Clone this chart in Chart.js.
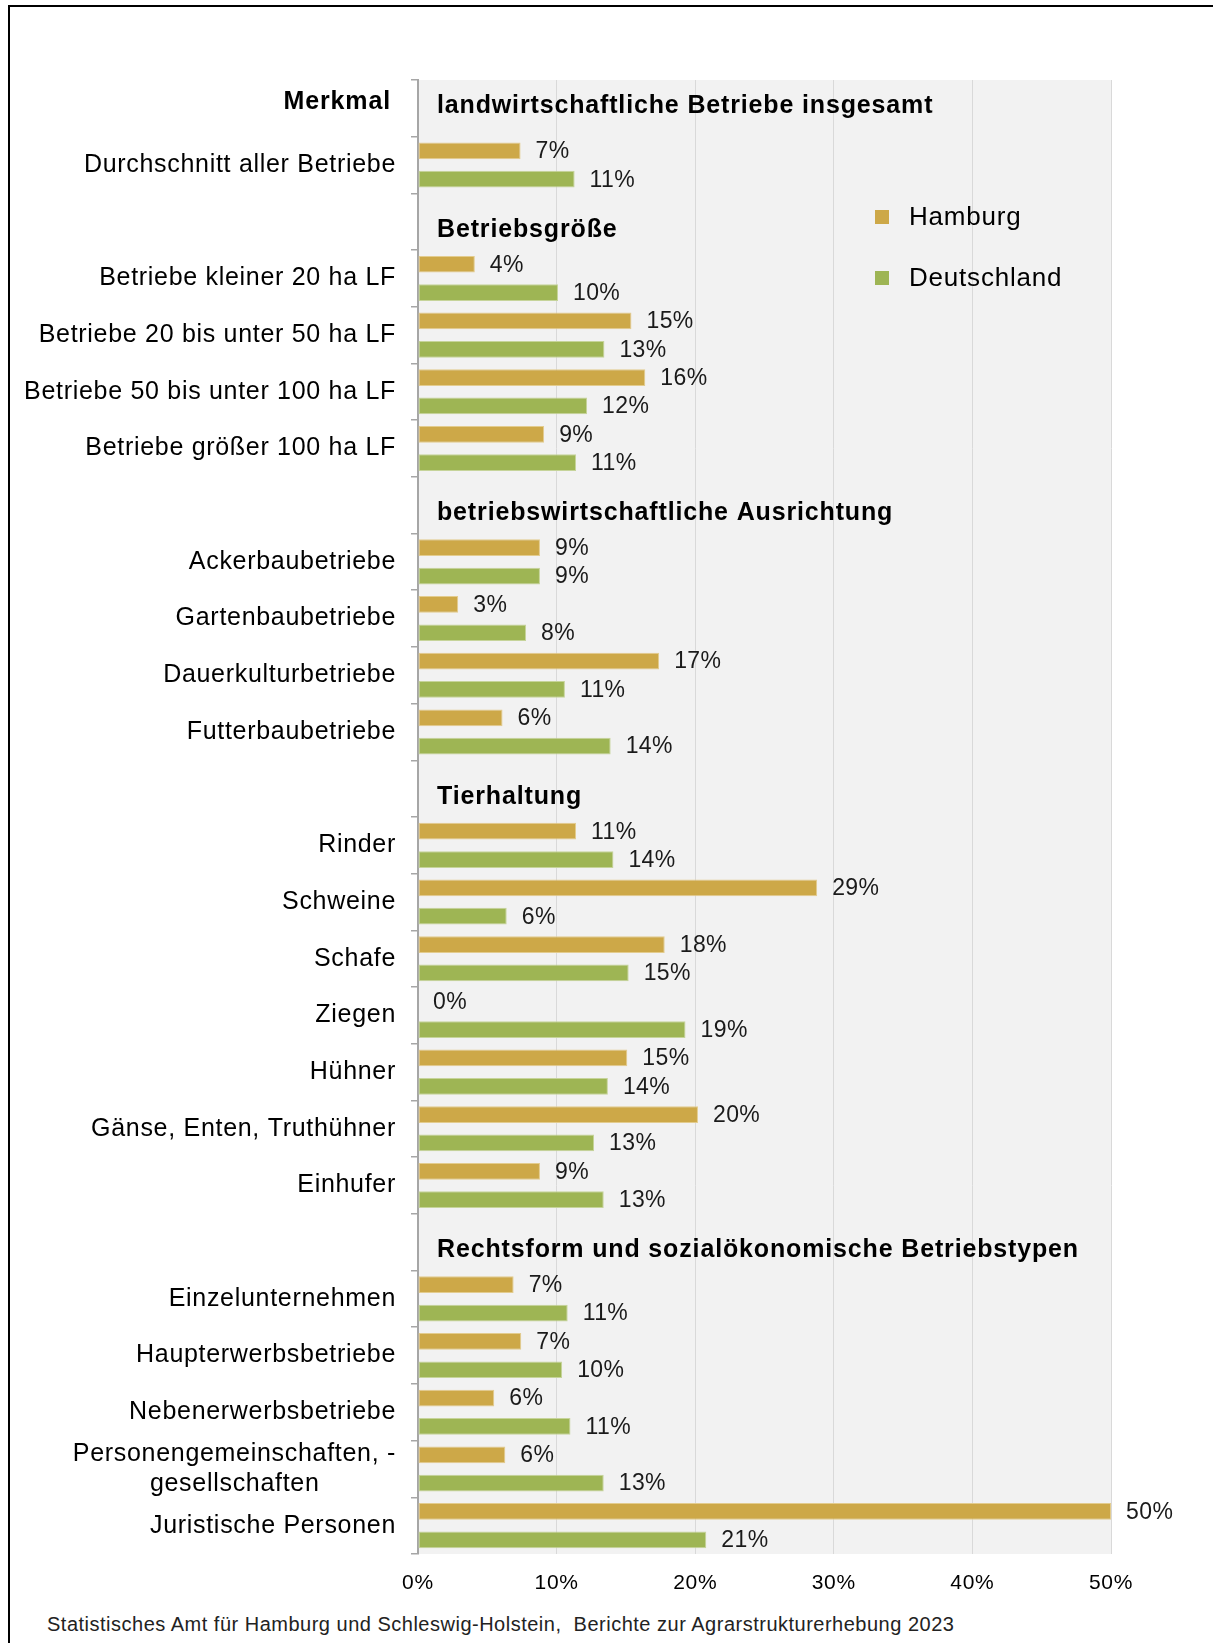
<!DOCTYPE html>
<html lang="de">
<head>
    <meta charset="UTF-8">
    <title>Betriebe Hamburg und Deutschland</title>
    <script src="https://cdn.jsdelivr.net/npm/chart.js"></script>
    <style>
        * { box-sizing: border-box; margin: 0; padding: 0; }
        body {
            width: 1213px;
            height: 1643px;
            background: #fff;
            position: relative;
            overflow: hidden;
            font-family: "Liberation Sans", Arial, sans-serif;
        }
        /* cropped frame: only top and left edge visible */
        .frame {
            position: absolute;
            left: 8px;
            top: 5px;
            width: 1400px;
            height: 1800px;
            border-top: 2px solid #000;
            border-left: 2px solid #000;
        }
        .chart-box {
            position: absolute;
            left: 0;
            top: 0;
            width: 1213px;
            height: 1600px;
        }
        .source {
            position: absolute;
            left: 47px;
            top: 1613px;
            font-size: 20px;
            letter-spacing: 0.5px;
            color: #222;
            white-space: pre;
        }
    </style>
</head>
<body>

<div class="frame"></div>
<div class="chart-box">
    <canvas id="betriebeChart"></canvas>
</div>
<div class="source">Statistisches Amt für Hamburg und Schleswig-Holstein,  Berichte zur Agrarstrukturerhebung 2023</div>

<script>
    // rows of the chart (empty label = section header row)
    const labels = [
        '', 'Durchschnitt aller Betriebe',
        '', 'Betriebe kleiner 20 ha LF', 'Betriebe 20 bis unter 50 ha LF', 'Betriebe 50 bis unter 100 ha LF', 'Betriebe größer 100 ha LF',
        '', 'Ackerbaubetriebe', 'Gartenbaubetriebe', 'Dauerkulturbetriebe', 'Futterbaubetriebe',
        '', 'Rinder', 'Schweine', 'Schafe', 'Ziegen', 'Hühner', 'Gänse, Enten, Truthühner', 'Einhufer',
        '', 'Einzelunternehmen', 'Haupterwerbsbetriebe', 'Nebenerwerbsbetriebe',
        ['Personengemeinschaften, -', 'gesellschaften' + '\u00a0'.repeat(10)], 'Juristische Personen'
    ];
    const headers = [
        'landwirtschaftliche Betriebe insgesamt', '',
        'Betriebsgröße', '', '', '', '',
        'betriebswirtschaftliche Ausrichtung', '', '', '', '',
        'Tierhaltung', '', '', '', '', '', '', '',
        'Rechtsform und sozialökonomische Betriebstypen', '', '', '', '', ''
    ];
    const hamburg = [null, 7.4, null, 4.1, 15.4, 16.4, 9.1, null, 8.8, 2.9, 17.4, 6.1, null, 11.4, 28.8, 17.8, 0, 15.1, 20.2, 8.8, null, 6.9, 7.45, 5.5, 6.3, 50];
    const deutschland = [null, 11.3, null, 10.1, 13.45, 12.2, 11.4, null, 8.8, 7.8, 10.6, 13.9, null, 14.1, 6.4, 15.2, 19.3, 13.7, 12.7, 13.4, null, 10.8, 10.4, 11.0, 13.4, 20.8];
    const xTickLabels = ['0%', '10%', '20%', '30%', '40%', '50%'];

    const FONT = '"Liberation Sans", Arial, sans-serif';
    Chart.defaults.font.family = FONT;
    Chart.defaults.color = '#000';

    // plot background, value labels, section headers, legend
    const decor = {
        id: 'decor',
        beforeDraw(chart) {
            const { ctx, chartArea: a } = chart;
            ctx.letterSpacing = '0.7px';
            ctx.save();
            ctx.fillStyle = '#f2f2f2';
            ctx.fillRect(a.left, a.top, a.right - a.left, a.bottom - a.top);
            ctx.restore();
        },
        afterDatasetsDraw(chart) {
            const { ctx, chartArea: a } = chart;
            const y = chart.scales.y;
            ctx.save();

            // value labels
            ctx.font = '23px ' + FONT;
            ctx.letterSpacing = '0.4px';
            ctx.fillStyle = '#1a1a1a';
            ctx.textBaseline = 'middle';
            ctx.textAlign = 'left';
            chart.data.datasets.forEach((ds, i) => {
                chart.getDatasetMeta(i).data.forEach((bar, j) => {
                    const v = ds.data[j];
                    if (v === null) return;
                    ctx.fillText(Math.round(v) + '%', bar.x + 15, bar.y + 1);
                });
            });

            // section headers
            ctx.font = 'bold 25px ' + FONT;
            ctx.letterSpacing = '0.85px';
            ctx.fillStyle = '#000';
            headers.forEach((h, j) => {
                if (!h) return;
                const yy = y.getPixelForValue(j) + (j === 0 ? -2 : 8);
                ctx.fillText(h, a.left + 19, yy);
            });
            ctx.textAlign = 'right';
            ctx.fillText('Merkmal', 391, y.getPixelForValue(0) - 6);

            // legend
            ctx.textAlign = 'left';
            ctx.font = '26px ' + FONT;
            ctx.letterSpacing = '0.8px';
            const legendY = [217, 278];
            chart.data.datasets.forEach((ds, i) => {
                ctx.fillStyle = ds.backgroundColor;
                ctx.fillRect(875, legendY[i] - 7, 14, 14);
                ctx.fillStyle = '#000';
                ctx.fillText(ds.label, 909, legendY[i] + 1);
            });

            ctx.restore();
        }
    };

    const ctx = document.getElementById('betriebeChart').getContext('2d');
    new Chart(ctx, {
        type: 'bar',
        data: {
            labels: labels,
            datasets: [
                {
                    label: 'Hamburg',
                    data: hamburg,
                    backgroundColor: '#CDA848',
                    borderColor: '#E3CC8E',
                    borderWidth: c => (c.raw ? 1 : 0),
                    borderSkipped: false
                },
                {
                    label: 'Deutschland',
                    data: deutschland,
                    backgroundColor: '#9EB554',
                    borderColor: '#C6D49A',
                    borderWidth: c => (c.raw ? 1 : 0),
                    borderSkipped: false
                }
            ]
        },
        options: {
            indexAxis: 'y',
            responsive: true,
            maintainAspectRatio: false,
            animation: false,
            categoryPercentage: 1.0,
            barPercentage: 0.59,
            layout: { padding: { top: 80, right: 102, left: 0, bottom: 0 } },
            plugins: {
                legend: { display: false },
                tooltip: { enabled: false }
            },
            scales: {
                x: {
                    min: 0,
                    max: 50,
                    ticks: {
                        stepSize: 10,
                        padding: 17,
                        font: { size: 21 },
                        color: '#000',
                        callback: (v, i) => xTickLabels[i]
                    },
                    grid: { color: '#d9d9d9', lineWidth: 1, drawTicks: false },
                    border: { display: false },
                    afterFit: s => { s.height = 46; }
                },
                y: {
                    ticks: {
                        padding: 15,
                        font: { size: 25 },
                        color: '#000',
                        autoSkip: false
                    },
                    grid: {
                        offset: true,
                        drawOnChartArea: false,
                        color: '#a6a6a6',
                        lineWidth: 1.5,
                        tickLength: 7
                    },
                    border: { color: '#a6a6a6', width: 2 },
                    afterFit: s => { s.width = 418; }
                }
            }
        },
        plugins: [decor]
    });
</script>

</body>
</html>
